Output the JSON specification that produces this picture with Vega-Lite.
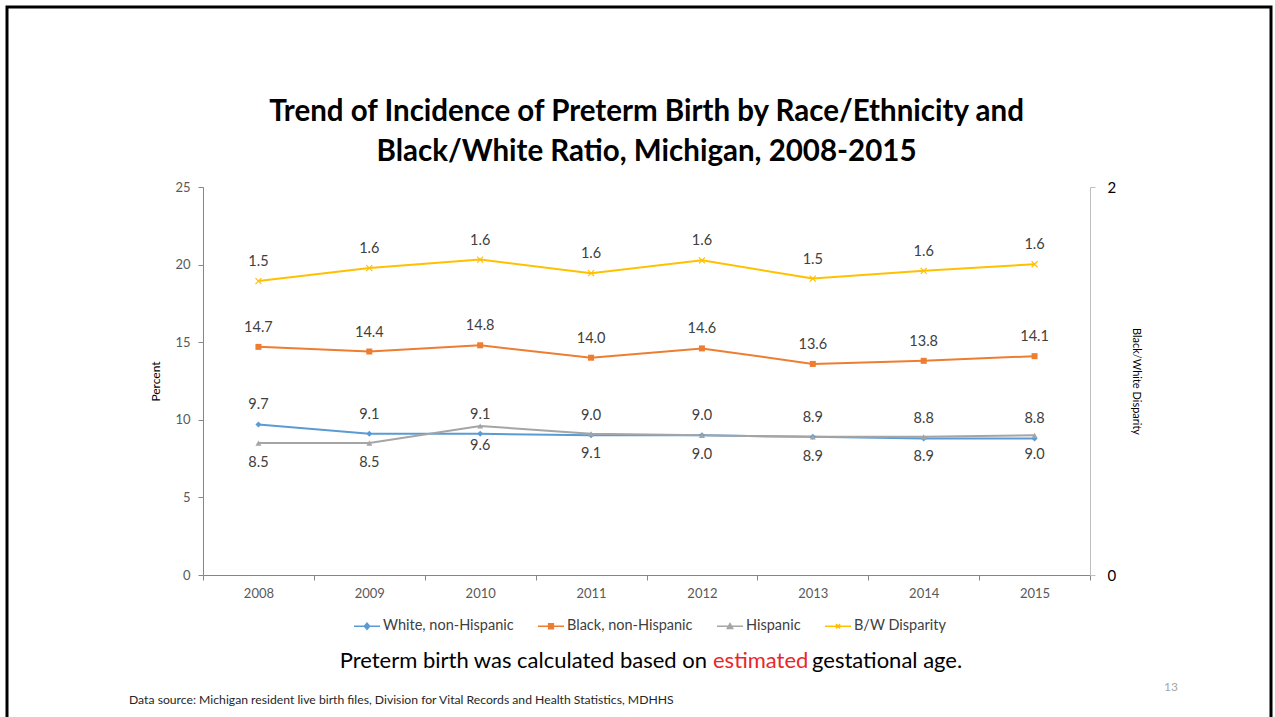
{
  "$schema": "https://vega.github.io/schema/vega-lite/v6.json",
  "width": 887,
  "height": 388,
  "autosize": {"type": "none"},
  "padding": {"left": 203, "top": 187, "right": 185, "bottom": 142},
  "background": "white",
  "config": {
    "font": "Lato",
    "view": {"stroke": null},
    "axis": {"grid": false}
  },
  "title": {
    "text": ["Trend of Incidence of Preterm Birth by Race/Ethnicity and", "Black/White Ratio, Michigan, 2008-2015"],
    "font": "Lato",
    "fontSize": 29.5,
    "fontWeight": "bold",
    "color": "#000000",
    "lineHeight": 40,
    "offset": -162,
    "anchor": "middle"
  },
  "datasets": {
    "preterm": [
      {"year": "2008", "group": "White, non-Hispanic", "measure": "rate", "value": 9.7},
      {"year": "2009", "group": "White, non-Hispanic", "measure": "rate", "value": 9.1},
      {"year": "2010", "group": "White, non-Hispanic", "measure": "rate", "value": 9.1},
      {"year": "2011", "group": "White, non-Hispanic", "measure": "rate", "value": 9.0},
      {"year": "2012", "group": "White, non-Hispanic", "measure": "rate", "value": 9.0},
      {"year": "2013", "group": "White, non-Hispanic", "measure": "rate", "value": 8.9},
      {"year": "2014", "group": "White, non-Hispanic", "measure": "rate", "value": 8.8},
      {"year": "2015", "group": "White, non-Hispanic", "measure": "rate", "value": 8.8},
      {"year": "2008", "group": "Black, non-Hispanic", "measure": "rate", "value": 14.7},
      {"year": "2009", "group": "Black, non-Hispanic", "measure": "rate", "value": 14.4},
      {"year": "2010", "group": "Black, non-Hispanic", "measure": "rate", "value": 14.8},
      {"year": "2011", "group": "Black, non-Hispanic", "measure": "rate", "value": 14.0},
      {"year": "2012", "group": "Black, non-Hispanic", "measure": "rate", "value": 14.6},
      {"year": "2013", "group": "Black, non-Hispanic", "measure": "rate", "value": 13.6},
      {"year": "2014", "group": "Black, non-Hispanic", "measure": "rate", "value": 13.8},
      {"year": "2015", "group": "Black, non-Hispanic", "measure": "rate", "value": 14.1},
      {"year": "2008", "group": "Hispanic", "measure": "rate", "value": 8.5},
      {"year": "2009", "group": "Hispanic", "measure": "rate", "value": 8.5},
      {"year": "2010", "group": "Hispanic", "measure": "rate", "value": 9.6},
      {"year": "2011", "group": "Hispanic", "measure": "rate", "value": 9.1},
      {"year": "2012", "group": "Hispanic", "measure": "rate", "value": 9.0},
      {"year": "2013", "group": "Hispanic", "measure": "rate", "value": 8.9},
      {"year": "2014", "group": "Hispanic", "measure": "rate", "value": 8.9},
      {"year": "2015", "group": "Hispanic", "measure": "rate", "value": 9.0},
      {"year": "2008", "group": "B/W Disparity", "measure": "ratio", "value": 1.515},
      {"year": "2009", "group": "B/W Disparity", "measure": "ratio", "value": 1.582},
      {"year": "2010", "group": "B/W Disparity", "measure": "ratio", "value": 1.626},
      {"year": "2011", "group": "B/W Disparity", "measure": "ratio", "value": 1.556},
      {"year": "2012", "group": "B/W Disparity", "measure": "ratio", "value": 1.622},
      {"year": "2013", "group": "B/W Disparity", "measure": "ratio", "value": 1.528},
      {"year": "2014", "group": "B/W Disparity", "measure": "ratio", "value": 1.568},
      {"year": "2015", "group": "B/W Disparity", "measure": "ratio", "value": 1.602}
    ]
  },
  "data": {"name": "preterm"},
  "layer": [
    {
      "transform": [{"filter": "datum.measure === 'rate'"}],
      "encoding": {
        "x": {
          "field": "year", "type": "ordinal",
          "scale": {"type": "band", "paddingInner": 0, "paddingOuter": 0},
          "axis": {"title": null, "labelAngle": 0, "tickBand": "extent", "tickSize": 5, "domainColor": "#868686", "tickColor": "#868686", "labelColor": "#595959", "labelFontSize": 13, "labelPadding": 7}
        },
        "y": {
          "field": "value", "type": "quantitative",
          "scale": {"domain": [0, 25], "nice": false},
          "axis": {"orient": "left", "title": "Percent", "values": [0, 5, 10, 15, 20, 25], "tickSize": 5, "labelPadding": 8, "domainColor": "#868686", "tickColor": "#868686", "labelColor": "#595959", "labelFontSize": 13, "titleFontSize": 12, "titleFontWeight": "normal", "titleColor": "#000000", "titlePadding": 12}
        }
      },
      "layer": [
        {
          "mark": {"type": "line", "strokeWidth": 2},
          "encoding": {
            "color": {
              "field": "group", "type": "nominal",
              "scale": {"domain": ["White, non-Hispanic", "Black, non-Hispanic", "Hispanic", "B/W Disparity"], "range": ["#5B9BD5", "#ED7D31", "#A5A5A5", "#FFC000"]},
              "legend": {
                "title": null, "orient": "none", "legendX": 150, "legendY": 425, "direction": "horizontal",
                "symbolSize": 676, "symbolStrokeWidth": 1.6, "labelFontSize": 14.5, "labelColor": "#404040", "columnPadding": 20, "labelOffset": 2,
                "encode": {"symbols": {"update": {
                  "shape": {"signal": "datum.value === 'White, non-Hispanic' ? 'M-1,0H1M-0.2,0L0,-0.24L0.2,0L0,0.24Z' : datum.value === 'Black, non-Hispanic' ? 'M-1,0H1M-0.18,-0.18H0.18V0.18H-0.18Z' : datum.value === 'Hispanic' ? 'M-1,0H1M-0.2,0.16L0,-0.2L0.2,0.16Z' : 'M-1,0H1M-0.16,-0.16L0.16,0.16M-0.16,0.16L0.16,-0.16'"},
                  "fill": {"signal": "scale('color', datum.value)"}
                }}}
              }
            }
          }
        },
        {
          "mark": {"type": "point", "filled": true, "opacity": 1, "size": 36},
          "encoding": {
            "color": {"field": "group", "type": "nominal", "legend": null},
            "shape": {"field": "group", "type": "nominal", "scale": {"domain": ["White, non-Hispanic", "Black, non-Hispanic", "Hispanic"], "range": ["diamond", "square", "triangle-up"]}, "legend": null}
          }
        },
        {
          "transform": [{"filter": "datum.group !== 'Hispanic'"}],
          "mark": {"type": "text", "dy": -19, "fontSize": 14.5, "color": "#404040"},
          "encoding": {"text": {"field": "value", "type": "quantitative", "format": ".1f"}}
        },
        {
          "transform": [{"filter": "datum.group === 'Hispanic'"}],
          "mark": {"type": "text", "dy": 20, "fontSize": 14.5, "color": "#404040"},
          "encoding": {"text": {"field": "value", "type": "quantitative", "format": ".1f"}}
        }
      ]
    },
    {
      "transform": [{"filter": "datum.measure === 'ratio'"}],
      "encoding": {
        "x": {"field": "year", "type": "ordinal"},
        "y": {
          "field": "value", "type": "quantitative",
          "scale": {"domain": [0, 2], "nice": false},
          "axis": {"orient": "right", "title": "Black/White Disparity", "values": [0, 1, 2], "format": "d", "tickSize": 5, "labelPadding": 12, "domainColor": "#BFBFBF", "tickColor": "#BFBFBF", "labelColor": "#000000", "labelFontSize": 15, "titleFontSize": 11, "titleFontWeight": "normal", "titleColor": "#000000", "titlePadding": 15}
        }
      },
      "layer": [
        {
          "mark": {"type": "line", "strokeWidth": 2},
          "encoding": {"color": {"field": "group", "type": "nominal"}}
        },
        {
          "mark": {"type": "point", "filled": false, "size": 36, "strokeWidth": 1.2, "opacity": 1, "shape": "M-1,-1L1,1M-1,1L1,-1"},
          "encoding": {"color": {"field": "group", "type": "nominal", "legend": null}}
        },
        {
          "mark": {"type": "text", "dy": -19, "fontSize": 14.5, "color": "#404040"},
          "encoding": {"text": {"field": "value", "type": "quantitative", "format": ".1f"}}
        }
      ]
    },
    {
      "data": {"values": [{"t": "Preterm birth was calculated based on"}]},
      "mark": {"type": "text", "align": "right", "baseline": "middle", "fontSize": 22, "color": "#000000", "x": 504, "y": 474},
      "encoding": {"text": {"field": "t"}}
    },
    {
      "data": {"values": [{"t": "estimated"}]},
      "mark": {"type": "text", "align": "left", "baseline": "middle", "fontSize": 22, "color": "#E8272A", "x": 510, "y": 474},
      "encoding": {"text": {"field": "t"}}
    },
    {
      "data": {"values": [{"t": "gestational age."}]},
      "mark": {"type": "text", "align": "left", "baseline": "middle", "fontSize": 22, "color": "#000000", "x": 609, "y": 474},
      "encoding": {"text": {"field": "t"}}
    },
    {
      "data": {"values": [{"t": "Data source: Michigan resident live birth files, Division for Vital Records and Health Statistics, MDHHS"}]},
      "mark": {"type": "text", "align": "left", "baseline": "middle", "fontSize": 12.2, "color": "#262626", "x": -74, "y": 513},
      "encoding": {"text": {"field": "t"}}
    },
    {
      "data": {"values": [{"t": "13"}]},
      "mark": {"type": "text", "align": "center", "baseline": "middle", "fontSize": 12, "color": "#A6A6A6", "x": 968, "y": 500},
      "encoding": {"text": {"field": "t"}}
    },
    {
      "data": {"values": [{"t": "slide"}]},
      "mark": {"type": "rect", "filled": false, "fill": "transparent", "stroke": "#000000", "strokeWidth": 3, "clip": false},
      "encoding": {"x": {"value": -196}, "x2": {"value": 1068}, "y": {"value": -180}, "y2": {"value": 545}}
    }
  ],
  "resolve": {"scale": {"y": "independent"}, "axis": {"y": "independent"}}
}
